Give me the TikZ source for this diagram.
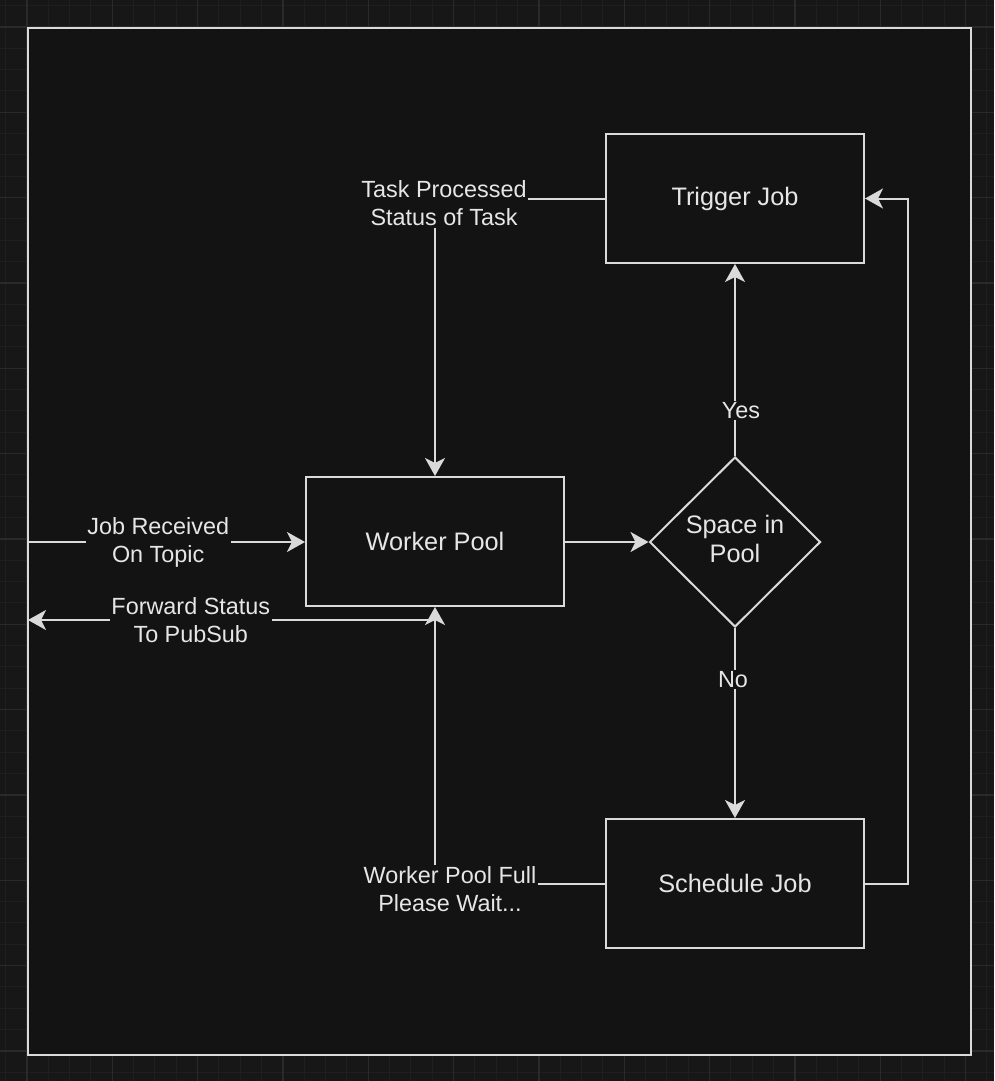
\documentclass[tikz,border=0pt]{standalone}
\usepackage{fontspec}
\setmainfont{Liberation Sans}
\usetikzlibrary{shapes.geometric,arrows.meta}
\definecolor{canvas}{HTML}{171717}
\definecolor{gridminor}{HTML}{1F1F1F}
\definecolor{gridmajor}{HTML}{2A2A2A}
\definecolor{panel}{HTML}{131313}
\definecolor{ink}{HTML}{DADADA}
\definecolor{textc}{HTML}{E6E6E6}
\tikzset{
  box/.style={draw=ink, fill=panel, line width=2pt, minimum width=258pt,
    minimum height=129pt, inner sep=0pt, text=textc,
    font=\fontsize{25.3}{29}\selectfont},
  decision/.style={diamond, draw=ink, fill=panel, line width=2pt,
    minimum width=171pt, minimum height=170pt, inner sep=0pt, text=textc,
    align=center, font=\fontsize{25.3}{29}\selectfont},
  lbl/.style={fill=panel, text=textc, inner sep=1.5pt, align=center,
    font=\fontsize{23.4}{28}\selectfont},
  flow/.style={draw=ink, line width=2pt,
    -{Stealth[length=18pt, width=20pt, inset=5pt]}}
}
\begin{document}
\begin{tikzpicture}[x=1pt, y=-1pt]
  \useasboundingbox (0,0) rectangle (994,1081);
  \fill[canvas] (0,0) rectangle (994,1081);
  % grid behind the panel
  \foreach \g in {5.67,27,...,1081} {
    \draw[gridminor, line width=1pt] (\g,0) -- (\g,1081);
    \draw[gridminor, line width=1pt] (0,\g) -- (994,\g);
  }
  \foreach \g in {27,112.33,...,1081} {
    \draw[gridmajor, line width=1.5pt] (\g,0) -- (\g,1081);
    \draw[gridmajor, line width=1.5pt] (0,\g) -- (994,\g);
  }
  \draw[ink, fill=panel, line width=2pt] (28,28) rectangle (971,1055);

  \node[box] (trigger) at (735,198.5) {Trigger Job};
  \node[box] (pool) at (435,541.5) {Worker Pool};
  \node[box] (sched) at (735,883.5) {Schedule Job};
  \node[decision] (space) at (735,542) {};
  \node[text=textc, align=center, font=\fontsize{25.3}{29}\selectfont]
    (spacetext) at (735,539) {Space in\\Pool};
  \coordinate (in) at (28,542);
  \coordinate (out) at (28,620);
  \coordinate (fwd) at (435,620);

  \begin{scope}[flow]
    \draw (in) -- node[lbl, pos=0.47] {Job Received\\On Topic} (pool.west |- in);
    \draw (fwd) -- node[lbl, pos=0.6] {Forward Status\\To PubSub} (out);
    \draw (trigger.west) -| node[lbl, pos=0.5, xshift=9pt, yshift=-5pt]
      {Task Processed\\Status of Task} (pool.north);
    \draw (sched.west) -| node[lbl, pos=0.5, xshift=15pt, yshift=-6pt]
      {Worker Pool Full\\Please Wait...} (pool.south);
    \draw (pool.east |- space) -- (space.west);
    \draw (space.north) -- node[lbl, pos=0.237, xshift=6pt] {Yes} (trigger.south);
    \draw (space.south) -- node[lbl, pos=0.27, xshift=-2pt] {No} (sched.north);
    \draw (sched.east) -- ++(43,0) |- (trigger.east);
  \end{scope}
\end{tikzpicture}
\end{document}
